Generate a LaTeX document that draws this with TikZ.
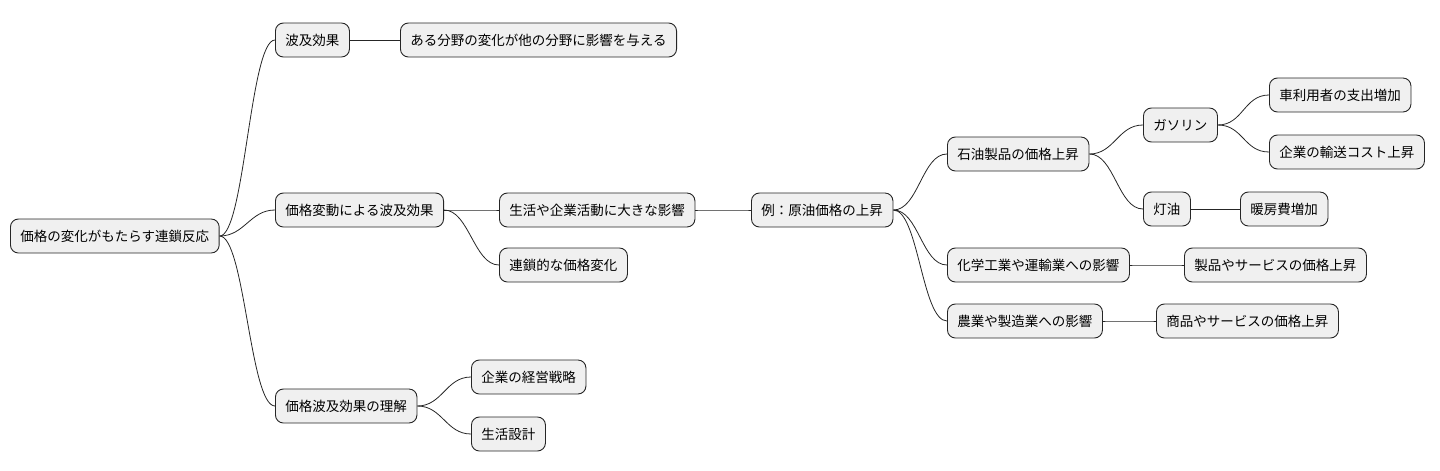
\documentclass[tikz,border=0pt]{standalone}
\usepackage{fontspec}
\setmainfont{Noto Sans CJK JP}
\begin{document}
\begin{tikzpicture}[x=1pt,y=-1pt,
  n/.style={draw=black!85,fill=black!6,rounded corners=8pt,line width=0.9pt,minimum height=34pt,inner xsep=10pt,anchor=west,font=\fontsize{13.5pt}{15pt}\selectfont},
  c/.style={line width=0.8pt,draw=black!85}]
\useasboundingbox (0,0) rectangle (1440,471);
\node[n] (r) at (10,236) {価格の変化がもたらす連鎖反応};
\node[n] (a) at (275,40) {波及効果};
\node[n] (a1) at (400,40) {ある分野の変化が他の分野に影響を与える};
\node[n] (b) at (275,210) {価格変動による波及効果};
\node[n] (b1) at (499,210) {生活や企業活動に大きな影響};
\node[n] (b2) at (499,265) {連鎖的な価格変化};
\node[n] (e) at (751,210) {例：原油価格の上昇};
\node[n] (e1) at (947,154) {石油製品の価格上昇};
\node[n] (g) at (1143,125) {ガソリン};
\node[n] (g1) at (1269,95) {車利用者の支出増加};
\node[n] (g2) at (1269,152) {企業の輸送コスト上昇};
\node[n] (k) at (1143,209) {灯油};
\node[n] (k1) at (1240,209) {暖房費増加};
\node[n] (e2) at (947,265) {化学工業や運輸業への影響};
\node[n] (e21) at (1184,265) {製品やサービスの価格上昇};
\node[n] (e3) at (947,321) {農業や製造業への影響};
\node[n] (e31) at (1156,321) {商品やサービスの価格上昇};
\node[n] (u) at (275,406) {価格波及効果の理解};
\node[n] (u1) at (471,377) {企業の経営戦略};
\node[n] (u2) at (471,434) {生活設計};
\foreach \p/\q in {r/a,r/b,r/u,a/a1,b/b1,b/b2,b1/e,e/e1,e/e2,e/e3,e1/g,e1/k,g/g1,g/g2,k/k1,e2/e21,e3/e31,u/u1,u/u2}
  \draw[c] (\p.east) .. controls ([xshift=25pt]\p.east) and ([xshift=-25pt]\q.west) .. (\q.west);
\end{tikzpicture}
\end{document}
